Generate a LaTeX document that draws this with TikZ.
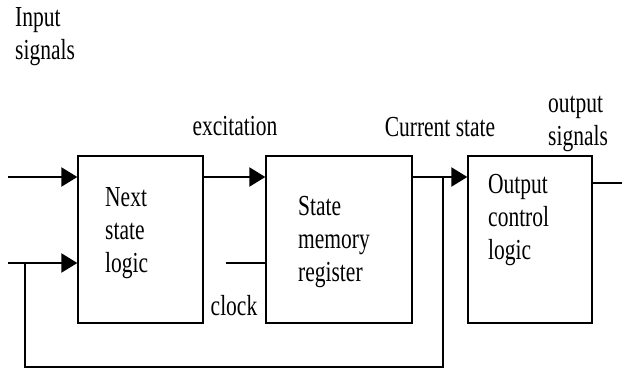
\documentclass[tikz,border=0pt]{standalone}
\usepackage{fontspec}
\setmainfont{Liberation Serif}
\usetikzlibrary{arrows.meta}
\newcommand{\tall}[1]{\scalebox{1}[1.35]{\begin{tabular}{@{}l@{}}#1\end{tabular}}}
\tikzset{
  blk/.style={draw, line width=1.3pt, minimum height=167pt, inner sep=0pt},
  sig/.style={line width=2.2pt, -{Triangle[length=16pt,width=19pt]}},
  wire/.style={line width=1.3pt},
  txt/.style={inner sep=0pt, font=\fontsize{21.5}{24.4}\selectfont}
}
\begin{document}
\begin{tikzpicture}[x=1pt, y=-1pt]
\useasboundingbox (0,0) rectangle (624,369);

% blocks
\node[blk, minimum width=125pt] (nsl) at (140.5,239.5) {};
\node[blk, minimum width=146pt] (smr) at (339,239.5) {};
\node[blk, minimum width=124pt] (ocl) at (530,239.5) {};

\node[txt, anchor=west] (nsltxt) at (105,233) {\tall{Next\\state\\logic}};
\node[txt, anchor=west] (smrtxt) at (298,242) {\tall{State\\memory\\register}};
\node[txt, anchor=west] (ocltxt) at (488,220) {\tall{Output\\control\\logic}};

% labels
\node[txt, anchor=west] (insig) at (15,36) {\tall{Input\\signals}};
\node[txt, anchor=west] (outsig) at (548,122) {\tall{output\\signals}};
\node[txt] (exc) at (235,126.5) {\scalebox{1}[1.35]{excitation}};
\node[txt] (cur) at (440,127) {\scalebox{1}[1.35]{Current state}};
\node[txt] (clock) at (234,305.5) {\scalebox{1}[1.35]{clock}};

% free ends
\coordinate (in1) at (8,177);
\coordinate (in2) at (8,263);
\coordinate (clk) at (226,263);
\coordinate (out) at (622,183);
\coordinate (tap) at (443,177);
\coordinate (back) at (25,367);

\draw[sig] (in1) -- (in1 -| nsl.west);
\draw[sig] (in2) -- (in2 -| nsl.west);
\draw[sig] (in1 -| nsl.east) -- (in1 -| smr.west);
\draw[sig] (in1 -| smr.east) -- (in1 -| ocl.west);
\draw[wire] (out -| ocl.east) -- (out);
\draw[wire] (clk) -- (clk -| smr.west);
\draw[wire] (tap) -- (tap |- back) -- (back) -- (back |- in2);
\end{tikzpicture}
\end{document}
